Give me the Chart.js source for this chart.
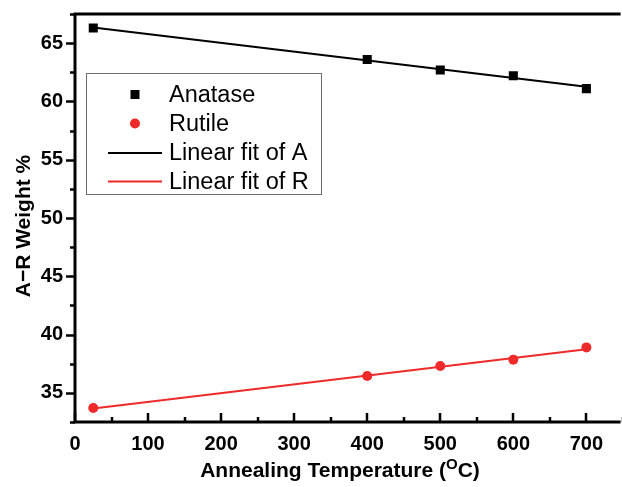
<!DOCTYPE html>
<html>
<head>
<meta charset="utf-8">
<script src="https://cdn.jsdelivr.net/npm/chart.js@4"></script>
<style>
  html, body { margin: 0; padding: 0; background: #fff; }
  #wrap { width: 622px; height: 487px; }
</style>
</head>
<body>
<div id="wrap"><canvas id="phaseChart" width="622" height="487"></canvas></div>
<script>
// annealing temperatures (deg C) and phase fractions
const temperatures = [25, 400, 500, 600, 700];
const anatase = [66.3, 63.6, 62.7, 62.2, 61.1];
const rutile = [33.7, 36.45, 37.3, 37.85, 38.9];

// straight-line fits, evaluated at the ends of the temperature range
const fitX = [25, 700];
const fitA = [66.35, 61.25];
const fitR = [33.65, 38.75];

const xTicks = [0, 100, 200, 300, 400, 500, 600, 700];
const yTicks = [35, 40, 45, 50, 55, 60, 65];

const RED = '#ee2a2a';
const FONT = "'Liberation Sans', Arial, sans-serif";

const toPts = (xs, ys) => xs.map((x, i) => ({ x: x, y: ys[i] }));

// frame, outward/inward ticks, titles and the boxed legend
const decor = {
    id: 'decor',
    afterDraw(chart) {
        const { ctx, chartArea: a, scales } = chart;
        const xs = scales.x, ys = scales.y;
        ctx.save();
        ctx.strokeStyle = '#000';
        ctx.lineCap = 'butt';

        // ticks on the left axis point out, on the bottom axis point in
        ctx.lineWidth = 2.5;
        yTicks.forEach(v => {
            const py = Math.round(ys.getPixelForValue(v)) + 0.5;
            ctx.beginPath(); ctx.moveTo(a.left, py); ctx.lineTo(a.left - 9, py); ctx.stroke();
            const pm = Math.round(ys.getPixelForValue(v - 2.5)) + 0.5;
            ctx.beginPath(); ctx.moveTo(a.left, pm); ctx.lineTo(a.left - 5, pm); ctx.stroke();
        });
        const topMinor = Math.round(ys.getPixelForValue(67.5)) + 0.5;
        ctx.beginPath(); ctx.moveTo(a.left, topMinor); ctx.lineTo(a.left - 5, topMinor); ctx.stroke();

        xTicks.forEach(v => {
            const px = Math.round(xs.getPixelForValue(v));
            ctx.beginPath(); ctx.moveTo(px, a.bottom); ctx.lineTo(px, a.bottom - 9); ctx.stroke();
            const mx = Math.round(xs.getPixelForValue(v + 50));
            ctx.beginPath(); ctx.moveTo(mx, a.bottom); ctx.lineTo(mx, a.bottom - 5); ctx.stroke();
        });

        // axis lines and top border
        ctx.lineWidth = 3;
        ctx.beginPath();
        ctx.moveTo(a.right + 5, a.top);
        ctx.lineTo(a.left, a.top);
        ctx.lineTo(a.left, a.bottom);
        ctx.lineTo(a.right + 5, a.bottom);
        ctx.stroke();

        // axis titles
        ctx.fillStyle = '#000';
        ctx.textBaseline = 'alphabetic';
        ctx.font = 'bold 21px ' + FONT;
        const t1 = 'Annealing Temperature (';
        const t2 = 'O';
        const t3 = 'C)';
        const w1 = ctx.measureText(t1).width;
        const w3 = ctx.measureText(t3).width;
        ctx.font = 'bold 15px ' + FONT;
        const w2 = ctx.measureText(t2).width;
        let tx = 340 - (w1 + w2 + w3) / 2;
        const ty = 477;
        ctx.font = 'bold 21px ' + FONT;
        ctx.textAlign = 'left';
        ctx.fillText(t1, tx, ty); tx += w1;
        ctx.font = 'bold 15px ' + FONT;
        ctx.fillText(t2, tx, ty - 8); tx += w2;
        ctx.font = 'bold 21px ' + FONT;
        ctx.fillText(t3, tx, ty);

        ctx.save();
        ctx.translate(30, 226);
        ctx.rotate(-Math.PI / 2);
        ctx.textAlign = 'center';
        ctx.fillText('A\u2212R Weight %', 0, 0);
        ctx.restore();

        // legend box
        const bx = 86.5, by = 73.5, bw = 235, bh = 121;
        ctx.lineWidth = 1;
        ctx.strokeStyle = '#6e6e6e';
        ctx.fillStyle = '#fff';
        ctx.fillRect(bx, by, bw, bh);
        ctx.strokeRect(bx, by, bw, bh);

        ctx.font = '23.5px ' + FONT;
        ctx.textAlign = 'left';
        ctx.textBaseline = 'middle';
        const rows = [94.5, 123.5, 153, 181.5];
        chart.data.datasets.forEach((ds, i) => {
            const cy = rows[i];
            if (ds.showLine) {
                ctx.strokeStyle = ds.borderColor;
                ctx.lineWidth = 2;
                ctx.beginPath(); ctx.moveTo(108, cy); ctx.lineTo(162, cy); ctx.stroke();
            } else if (ds.pointStyle === 'rect') {
                ctx.fillStyle = ds.pointBackgroundColor;
                ctx.fillRect(130.5, cy - 4.5, 9, 9);
            } else {
                ctx.fillStyle = ds.pointBackgroundColor;
                ctx.beginPath(); ctx.arc(135, cy, 5, 0, Math.PI * 2); ctx.fill();
            }
            ctx.fillStyle = '#000';
            ctx.fillText(ds.label, 169, cy + 1);
        });
        ctx.restore();
    }
};

new Chart(document.getElementById('phaseChart'), {
    type: 'scatter',
    data: {
        datasets: [
            {
                label: 'Anatase',
                data: toPts(temperatures, anatase),
                pointStyle: 'rect',
                pointRadius: 6.4,
                pointBackgroundColor: '#000',
                pointBorderWidth: 0,
                showLine: false,
                order: 0
            },
            {
                label: 'Rutile',
                data: toPts(temperatures, rutile),
                pointStyle: 'circle',
                pointRadius: 5,
                pointBackgroundColor: RED,
                pointBorderWidth: 0,
                showLine: false,
                order: 0
            },
            {
                label: 'Linear fit of A',
                data: toPts(fitX, fitA),
                showLine: true,
                borderColor: '#000',
                borderWidth: 2,
                pointRadius: 0,
                order: 1
            },
            {
                label: 'Linear fit of R',
                data: toPts(fitX, fitR),
                showLine: true,
                borderColor: RED,
                borderWidth: 2,
                pointRadius: 0,
                order: 1
            }
        ]
    },
    options: {
        responsive: false,
        animation: false,
        layout: { padding: { top: 14, right: 0, left: 0, bottom: 0 } },
        plugins: {
            legend: { display: false },
            tooltip: { enabled: false }
        },
        scales: {
            x: {
                type: 'linear',
                min: 0,
                max: 740,
                grid: { display: false, drawTicks: false },
                border: { display: false },
                afterBuildTicks: s => { s.ticks = xTicks.map(v => ({ value: v })); },
                afterFit: s => { s.height = 65; s.paddingLeft = 0; s.paddingRight = 0; },
                ticks: {
                    color: '#000',
                    padding: 10,
                    maxRotation: 0,
                    font: { family: FONT, size: 20, weight: 'bold' }
                }
            },
            y: {
                type: 'linear',
                min: 32.5,
                max: 67.5,
                grid: { display: false, drawTicks: false },
                border: { display: false },
                afterBuildTicks: s => { s.ticks = yTicks.map(v => ({ value: v })); },
                afterFit: s => { s.width = 75; s.paddingTop = 0; s.paddingBottom = 0; },
                ticks: {
                    color: '#000',
                    padding: 12,
                    font: { family: FONT, size: 20, weight: 'bold' }
                }
            }
        }
    },
    plugins: [decor]
});
</script>
</body>
</html>
